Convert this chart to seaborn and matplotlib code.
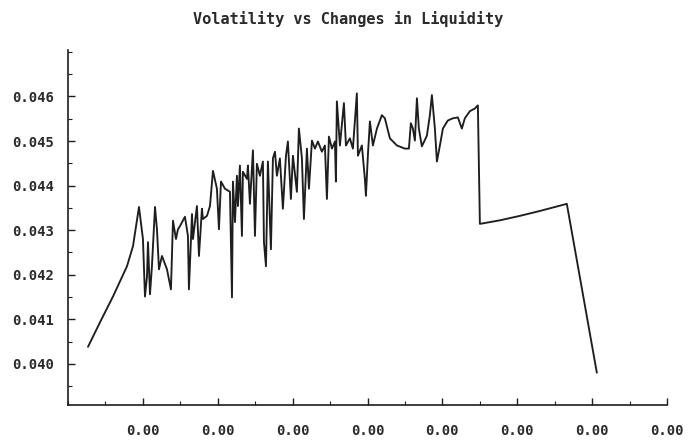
import numpy as np
import pandas as pd
import matplotlib
matplotlib.use("Agg")
import matplotlib.pyplot as plt
from matplotlib.ticker import FormatStrFormatter, MultipleLocator
import seaborn as sns

# Change in liquidity (in units of 0.0005) and volatility
liq_change_units = [
    0.267, 0.427, 0.601, 0.788, 0.868, 0.948, 1.001, 1.028, 1.055, 1.068,
    1.095, 1.121, 1.162, 1.188, 1.215, 1.255, 1.322, 1.375, 1.402, 1.442,
    1.469, 1.495, 1.562, 1.602, 1.615, 1.656, 1.669, 1.722, 1.749, 1.789,
    1.802, 1.856, 1.896, 1.936, 1.989, 2.016, 2.043, 2.096, 2.163, 2.190,
    2.203, 2.230, 2.256, 2.270, 2.296, 2.323, 2.336, 2.390, 2.403, 2.430,
    2.470, 2.497, 2.523, 2.563, 2.603, 2.617, 2.644, 2.670, 2.710, 2.737,
    2.764, 2.790, 2.830, 2.870, 2.911, 2.937, 2.977, 3.004, 3.057, 3.084,
    3.124, 3.151, 3.191, 3.218, 3.258, 3.298, 3.338, 3.391, 3.431, 3.458,
    3.485, 3.525, 3.565, 3.578, 3.591, 3.632, 3.685, 3.712, 3.765, 3.805,
    3.858, 3.872, 3.925, 3.965, 3.979, 4.005, 4.032, 4.072, 4.126, 4.192,
    4.232, 4.299, 4.393, 4.499, 4.553, 4.579, 4.606, 4.633, 4.660, 4.686,
    4.726, 4.793, 4.833, 4.860, 4.900, 4.927, 4.967, 5.007, 5.073, 5.140,
    5.207, 5.260, 5.300, 5.367, 5.434, 5.474, 5.501, 5.768, 6.035, 6.302,
    6.662, 7.063,
]
volatility = [
    0.04038, 0.04093, 0.04151, 0.04219, 0.04264, 0.04352, 0.04280, 0.04151, 0.04196, 0.04273,
    0.04156, 0.04219, 0.04352, 0.04302, 0.04212, 0.04242, 0.04212, 0.04167, 0.04321, 0.04280,
    0.04302, 0.04309, 0.04330, 0.04287, 0.04167, 0.04336, 0.04280, 0.04354, 0.04242, 0.04348,
    0.04325, 0.04332, 0.04354, 0.04433, 0.04393, 0.04302, 0.04409, 0.04393, 0.04386, 0.04149,
    0.04409, 0.04318, 0.04422, 0.04354, 0.04445, 0.04287, 0.04431, 0.04415, 0.04445, 0.04359,
    0.04479, 0.04287, 0.04449, 0.04422, 0.04454, 0.04273, 0.04219, 0.04454, 0.04257, 0.04461,
    0.04476, 0.04422, 0.04461, 0.04348, 0.04467, 0.04499, 0.04370, 0.04467, 0.04386, 0.04528,
    0.04461, 0.04325, 0.04483, 0.04393, 0.04501, 0.04483, 0.04499, 0.04476, 0.04490, 0.04370,
    0.04510, 0.04483, 0.04499, 0.04409, 0.04589, 0.04490, 0.04585, 0.04490, 0.04506, 0.04483,
    0.04607, 0.04467, 0.04490, 0.04415, 0.04377, 0.04467, 0.04544, 0.04490, 0.04528, 0.04558,
    0.04551, 0.04506, 0.04490, 0.04483, 0.04483, 0.04540, 0.04528, 0.04501, 0.04596, 0.04528,
    0.04488, 0.04512, 0.04558, 0.04603, 0.04528, 0.04454, 0.04490, 0.04528, 0.04546, 0.04551,
    0.04553, 0.04528, 0.04551, 0.04567, 0.04573, 0.04580, 0.04314, 0.04322, 0.04332, 0.04343,
    0.04359, 0.03980,
]
y_ticks = [0.040, 0.041, 0.042, 0.043, 0.044, 0.045, 0.046]
x_tick_units = [1, 2, 3, 4, 5, 6, 7, 8]
unit = 0.0005

df = pd.DataFrame({
    "liq": np.array(liq_change_units) * unit,
    "vol": volatility,
})

sns.set_theme(style="white")
plt.rcParams["font.family"] = ["DejaVu Sans Mono"]

fig = plt.figure(figsize=(6.96, 4.40), dpi=100)
ax = fig.add_axes([68 / 696, 1 - 405 / 440, (667 - 68) / 696, (405 - 50) / 440])

sns.lineplot(data=df, x="liq", y="vol", sort=False, estimator=None,
             color="#1e1e1e", linewidth=1.35, ax=ax)

ax.set_xlim(0, 8 * unit)
ax.set_ylim(0.039075, 0.047043)
ax.set_xticks(np.array(x_tick_units) * unit)
ax.set_yticks(y_ticks)
ax.xaxis.set_minor_locator(MultipleLocator(unit / 2))
ax.yaxis.set_minor_locator(MultipleLocator(0.0005))
ax.xaxis.set_major_formatter(FormatStrFormatter("%.2f"))
ax.yaxis.set_major_formatter(FormatStrFormatter("%.3f"))
ax.set_xlabel("")
ax.set_ylabel("")

for side in ["top", "right"]:
    ax.spines[side].set_visible(False)
for side in ["left", "bottom"]:
    ax.spines[side].set_color("#1e1e1e")
    ax.spines[side].set_linewidth(1.2)

ax.tick_params(axis="both", which="major", direction="in", length=5, width=1,
               color="#1e1e1e", labelsize=10, labelcolor="#2a2a2a")
ax.tick_params(axis="both", which="minor", direction="in", length=3, width=0.8,
               color="#1e1e1e")
ax.tick_params(axis="y", which="major", pad=10, left=True)
ax.tick_params(axis="x", which="major", pad=14, bottom=True)
ax.tick_params(axis="y", which="minor", left=True)
ax.tick_params(axis="x", which="minor", bottom=True)
for lab in ax.get_xticklabels() + ax.get_yticklabels():
    lab.set_fontweight("bold")

fig.suptitle("Volatility vs Changes in Liquidity", x=0.5, y=1 - 19 / 440,
             va="center", fontsize=11, fontweight="bold", color="#2a2a2a",
             family="DejaVu Sans Mono")

fig.savefig("out.png", dpi=100, facecolor="white")
